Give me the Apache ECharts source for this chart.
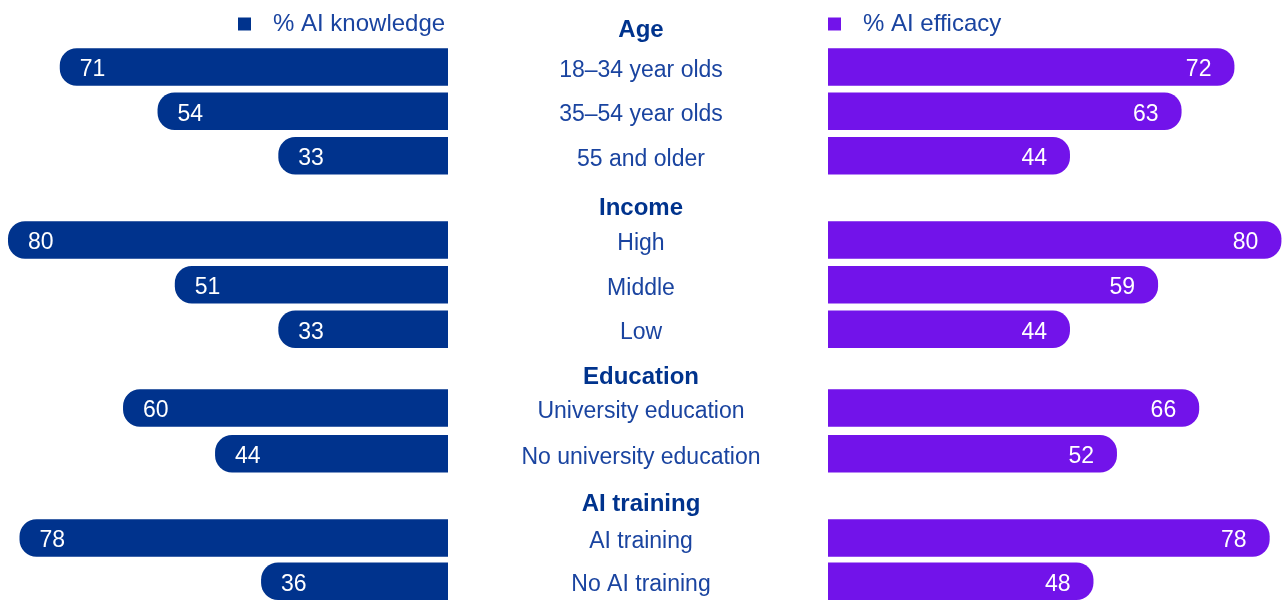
<!DOCTYPE html>
<html>
<head>
<meta charset="utf-8">
<script src="https://cdn.jsdelivr.net/npm/echarts@6/dist/echarts.min.js"></script>
<style>
  html, body { margin: 0; padding: 0; background: #ffffff; }
  #chart { width: 1282px; height: 603px; }
</style>
</head>
<body>
<div id="chart"></div>
<script>
// Series names
const seriesNames = ['% AI knowledge', '% AI efficacy'];

// Group headings
const groupNames = ['Age', 'Income', 'Education', 'AI training'];

// Categories and values per group
const ageCategories = ['18–34 year olds', '35–54 year olds', '55 and older'];
const ageKnowledge = [71, 54, 33];
const ageEfficacy = [72, 63, 44];

const incomeCategories = ['High', 'Middle', 'Low'];
const incomeKnowledge = [80, 51, 33];
const incomeEfficacy = [80, 59, 44];

const educationCategories = ['University education', 'No university education'];
const educationKnowledge = [60, 44];
const educationEfficacy = [66, 52];

const trainingCategories = ['AI training', 'No AI training'];
const trainingKnowledge = [78, 36];
const trainingEfficacy = [78, 48];

// Layout of each group block: top of the bar band, row pitch, heading centre
const blockLayout = [
  { top: 44.8, pitch: 44.35, headY: 30.5 },
  { top: 217.7, pitch: 44.65, headY: 208.7 },
  { top: 385.2, pitch: 45.7, headY: 377.8 },
  { top: 516.3, pitch: 45.5, headY: 504.3 }
];

const groups = [
  { cats: ageCategories, k: ageKnowledge, e: ageEfficacy },
  { cats: incomeCategories, k: incomeKnowledge, e: incomeEfficacy },
  { cats: educationCategories, k: educationKnowledge, e: educationEfficacy },
  { cats: trainingCategories, k: trainingKnowledge, e: trainingEfficacy }
];

const KNOW_COLOR = '#00338D';
const EFF_COLOR = '#7213EA';
const TEXT_COLOR = '#1a44a0';
const HEAD_COLOR = '#00338D';
const FONT = '"Liberation Sans", Arial, sans-serif';
const CENTER_X = 641;
const LEFT_EDGE = 448;
const RIGHT_START = 828;
const BAR_H = 37.5;
const RADIUS = 17;

const grid = [], xAxis = [], yAxis = [], series = [], graphic = [];

groups.forEach((g, i) => {
  const L = blockLayout[i];
  const h = L.pitch * g.cats.length;

  // left block: knowledge, growing leftwards
  grid.push({ left: 8, width: LEFT_EDGE - 8, top: L.top, height: h, containLabel: false });
  // right block: efficacy, growing rightwards
  grid.push({ left: RIGHT_START, width: 1282 - RIGHT_START, top: L.top, height: h, containLabel: false });

  xAxis.push({ gridIndex: 2 * i, type: 'value', min: 3.5, max: 80, inverse: true, show: false });
  xAxis.push({ gridIndex: 2 * i + 1, type: 'value', min: 2.8, max: 80.1, show: false });

  yAxis.push({
    gridIndex: 2 * i, type: 'category', data: g.cats, inverse: true, show: false
  });
  yAxis.push({
    gridIndex: 2 * i + 1, type: 'category', data: g.cats, inverse: true,
    axisLine: { show: false }, axisTick: { show: false }, splitLine: { show: false },
    axisLabel: {
      show: true, interval: 0, margin: RIGHT_START - CENTER_X, align: 'center',
      formatter: '{c|{value}}',
      rich: {
        c: { padding: [7, 0, 0, 0], color: TEXT_COLOR, fontSize: 23, fontFamily: FONT }
      }
    }
  });

  series.push({
    name: seriesNames[0], type: 'bar', xAxisIndex: 2 * i, yAxisIndex: 2 * i,
    data: g.k, barWidth: BAR_H, clip: true,
    itemStyle: { color: KNOW_COLOR, borderRadius: [RADIUS, 0, 0, RADIUS] },
    label: {
      show: true, position: 'insideLeft', distance: 20, offset: [0, 3],
      color: '#ffffff', fontSize: 23, fontFamily: FONT
    }
  });
  series.push({
    name: seriesNames[1], type: 'bar', xAxisIndex: 2 * i + 1, yAxisIndex: 2 * i + 1,
    data: g.e, barWidth: BAR_H, clip: true,
    itemStyle: { color: EFF_COLOR, borderRadius: [0, RADIUS, RADIUS, 0] },
    label: {
      show: true, position: 'insideRight', distance: 23, offset: [0, 3],
      color: '#ffffff', fontSize: 23, fontFamily: FONT
    }
  });

  graphic.push({
    type: 'text', x: CENTER_X, y: L.headY,
    style: {
      text: groupNames[i], align: 'center', verticalAlign: 'middle',
      fill: HEAD_COLOR, font: 'bold 24px ' + FONT
    }
  });
});

const legendCommon = {
  orient: 'horizontal', top: 12, padding: 0, itemWidth: 13, itemHeight: 13, icon: 'rect',
  selectedMode: false,
  formatter: '{t|{name}}',
  textStyle: {
    rich: { t: { padding: [0, 0, 0, 17], color: TEXT_COLOR, fontSize: 24, fontFamily: FONT } }
  }
};

const chart = echarts.init(document.getElementById('chart'), null, { renderer: 'canvas' });
chart.setOption({
  animation: false,
  backgroundColor: '#ffffff',
  legend: [
    Object.assign({ left: 238, data: [{ name: seriesNames[0], itemStyle: { color: KNOW_COLOR } }] }, legendCommon),
    Object.assign({ left: 828, data: [{ name: seriesNames[1], itemStyle: { color: EFF_COLOR } }] }, legendCommon)
  ],
  tooltip: { show: false },
  grid, xAxis, yAxis, series, graphic
});
</script>
</body>
</html>
